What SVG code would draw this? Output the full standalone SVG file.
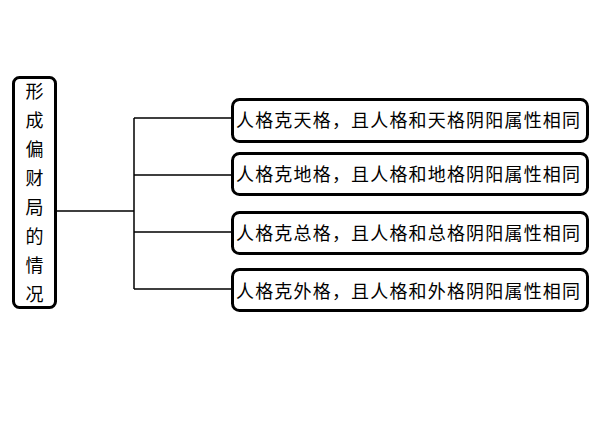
<svg xmlns="http://www.w3.org/2000/svg" width="600" height="425" viewBox="0 0 600 425">
<style>
.box{fill:#fff;stroke:#000;stroke-width:3}
.t{font-family:"Noto Sans CJK SC","Noto Sans",sans-serif;font-size:18px;fill:#000}
.c{fill:none;stroke:#000;stroke-width:1.5}
</style>
<rect width="600" height="425" fill="#fff"/>
<g id="connectors">
<path class="c" d="M56 211H134M134 118V289M134 118H232M134 175H232M134 232H232M134 289H232"/>
</g>
<g id="root">
<rect class="box" x="13.5" y="77.5" width="42" height="230" rx="6"/>
<text class="t" text-anchor="middle" x="34.5"><tspan x="34.5" y="98">形</tspan><tspan x="34.5" y="127">成</tspan><tspan x="34.5" y="156">偏</tspan><tspan x="34.5" y="185">财</tspan><tspan x="34.5" y="214">局</tspan><tspan x="34.5" y="243">的</tspan><tspan x="34.5" y="272">情</tspan><tspan x="34.5" y="301">况</tspan></text>
</g>
<g id="n1">
<rect class="box" x="232.5" y="99.5" width="355" height="42" rx="7"/>
<text class="t" x="236" y="127" textLength="344" lengthAdjust="spacing">人格克天格，且人格和天格阴阳属性相同</text>
</g>
<g id="n2">
<rect class="box" x="232.5" y="153.5" width="355" height="41" rx="7"/>
<text class="t" x="236" y="181" textLength="344" lengthAdjust="spacing">人格克地格，且人格和地格阴阳属性相同</text>
</g>
<g id="n3">
<rect class="box" x="232.5" y="212.5" width="355" height="41" rx="7"/>
<text class="t" x="236" y="240" textLength="344" lengthAdjust="spacing">人格克总格，且人格和总格阴阳属性相同</text>
</g>
<g id="n4">
<rect class="box" x="232.5" y="269.5" width="355" height="41" rx="7"/>
<text class="t" x="236" y="298" textLength="344" lengthAdjust="spacing">人格克外格，且人格和外格阴阳属性相同</text>
</g>
</svg>
